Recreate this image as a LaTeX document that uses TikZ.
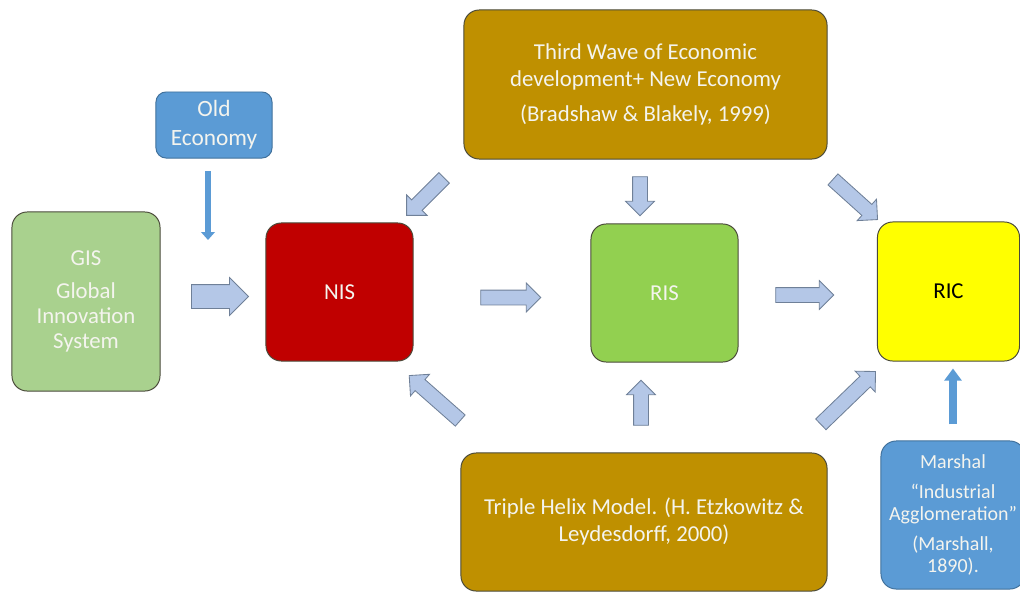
\documentclass[tikz,border=0pt]{standalone}
\usepackage{fontspec}
\setmainfont{Carlito}
\usetikzlibrary{shapes.arrows, arrows.meta, positioning}

\definecolor{econblue}{HTML}{5B9BD5}
\definecolor{econline}{HTML}{41719C}
\definecolor{gisgreen}{HTML}{A9D18E}
\definecolor{nisred}{HTML}{C00000}
\definecolor{risgreen}{HTML}{92D050}
\definecolor{ricyellow}{HTML}{FFFF00}
\definecolor{gold}{HTML}{BF9000}
\definecolor{boxline}{HTML}{4A4A3A}
\definecolor{arrowfill}{HTML}{B4C7E7}
\definecolor{arrowline}{HTML}{6F8098}
\definecolor{softwhite}{HTML}{F4F4EE}

\begin{document}
\begin{tikzpicture}[
    x=0.025cm, y=-0.025cm,
    block/.style={rectangle, draw=boxline, line width=0.7pt, rounded corners=0.38cm, align=center, text=softwhite, inner sep=2pt, font=\fontsize{16.2}{19.2}\selectfont},
    barrow/.style={single arrow, draw=arrowline, fill=arrowfill, line width=0.6pt, inner sep=0pt, text height=0.35cm, text depth=0pt, single arrow head extend=0.175cm},
    line/.style={draw=econblue, line width=0.16cm, -{Triangle[width=0.34cm, length=0.2cm]}}
]
\useasboundingbox (0,0) rectangle (1020,592);

% boxes
\node [block, fill=econblue, draw=econline, rounded corners=0.25cm, minimum width=2.9cm, minimum height=1.65cm, font=\fontsize{16.6}{20.6}\selectfont] (old) at (214,125) {Old\\Economy};
\node [block, fill=gisgreen, minimum width=3.7cm, minimum height=4.475cm, font=\fontsize{16.2}{17.8}\selectfont] (gis) at (86,301.5) {GIS\\[5pt]Global\\Innovation\\System};
\node [block, fill=nisred, minimum width=3.675cm, minimum height=3.45cm] (nis) at (339.5,292) {NIS};
\node [block, fill=risgreen, minimum width=3.675cm, minimum height=3.45cm] (ris) at (664.5,293) {RIS};
\node [block, fill=ricyellow, text=black, minimum width=3.55cm, minimum height=3.475cm] (ric) at (948.5,291.5) {RIC};
\node [block, fill=gold, minimum width=9.075cm, minimum height=3.725cm] (third) at (645.5,84.5) {Third Wave of Economic\\development+ New Economy\\[5.7pt](Bradshaw \& Blakely, 1999)};
\node [block, fill=gold, minimum width=9.15cm, minimum height=3.45cm] (triple) at (644,522) {Triple Helix Model. (H. Etzkowitz \&\\Leydesdorff, 2000)};
\node [block, fill=econblue, draw=econline, minimum width=3.6cm, minimum height=3.7cm, font=\fontsize{14.2}{15.6}\selectfont] (marshal) at (953,515) {Marshal\\[5.7pt]``Industrial\\Agglomeration''\\[5.7pt](Marshall,\\1890).};

% block arrows
\node [barrow, text height=0.575cm, minimum height=1.425cm] (a1) at (214,296.5) {};
\node [barrow, minimum height=1.5cm] (a2) at (507,297.5) {};
\node [barrow, minimum height=1.45cm] (a3) at (801,295) {};
\node [barrow, rotate=225, minimum height=1.325cm] (a4) at (428,194) {};
\node [barrow, rotate=-90, minimum height=0.975cm] (a5) at (640,192.5) {};
\node [barrow, rotate=-42, minimum height=1.5cm] (a6) at (852.5,197) {};
\node [barrow, rotate=138.6, minimum height=1.7cm] (a7) at (437.5,400.5) {};
\node [barrow, rotate=90, minimum height=1.125cm] (a8) at (641,406.5) {};
\node [barrow, rotate=44, minimum height=1.9cm] (a9) at (845.5,400.5) {};

% thin arrows
\coordinate (oldtail) at (208,171);
\coordinate (oldtip) at (208,240);
\path [line] (oldtail) -- (oldtip);
\path [line, line width=0.2cm, -{Triangle[width=0.42cm, length=0.3cm]}] ([yshift=0.4cm]marshal.north) -- ([yshift=-0.175cm]marshal.north |- ric.south);
\end{tikzpicture}
\end{document}
